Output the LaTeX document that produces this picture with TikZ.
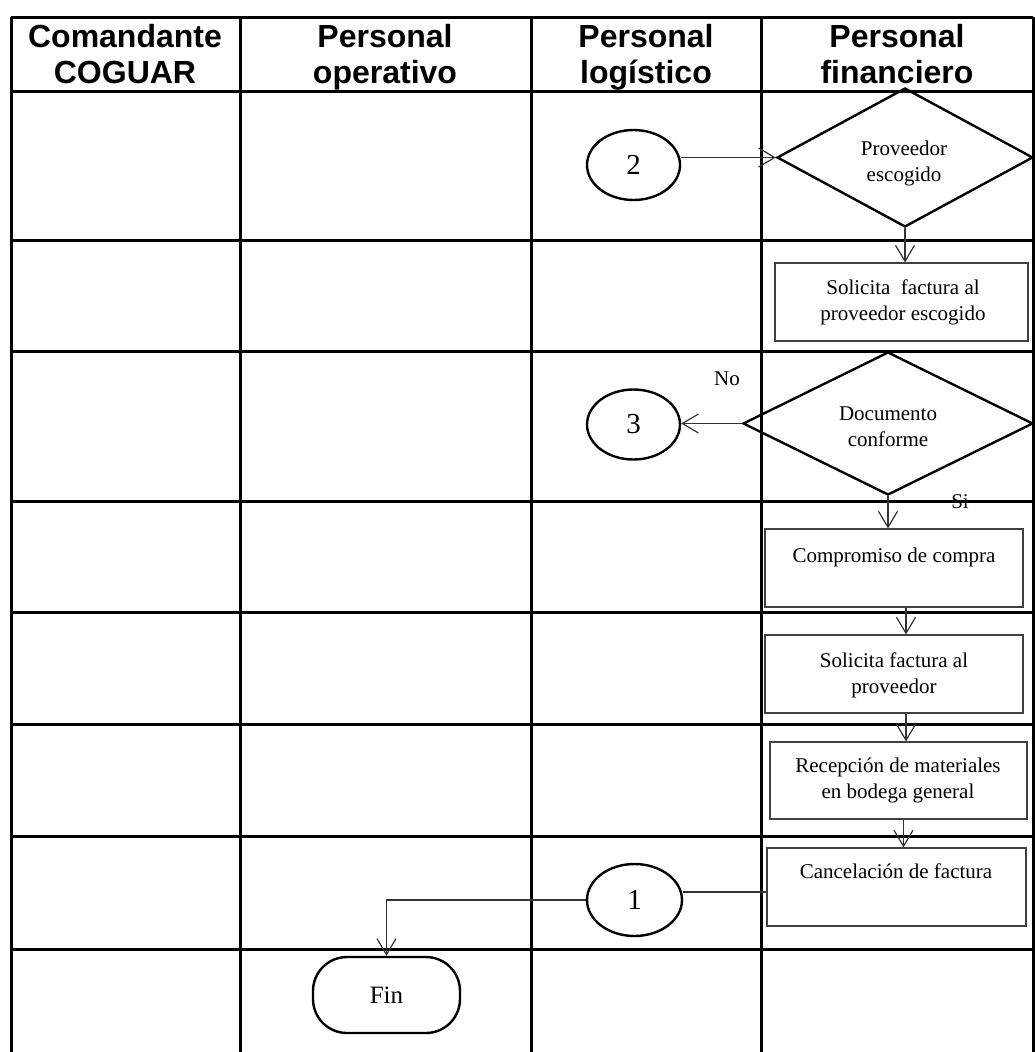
\documentclass[tikz,border=0pt]{standalone}
\usepackage{fontspec}
\setmainfont{Liberation Serif}
\newfontfamily\headfont{Liberation Sans}
\usetikzlibrary{shapes.geometric,arrows.meta}

\begin{document}
\begin{tikzpicture}[x=1pt,y=-1pt,
  grid/.style={line width=3pt, black},
  lanehead/.style={font=\headfont\bfseries\fontsize{32}{36}\selectfont, align=center, anchor=base, inner sep=0},
  txt/.style={font=\fontsize{21}{26}\selectfont, align=center, anchor=base, inner sep=0},
  decision/.style={diamond, draw, line width=2.4pt, inner sep=0},
  process/.style={rectangle, draw=black!75, line width=1.1pt, inner sep=0},
  onpage/.style={ellipse, draw, line width=2.4pt, minimum width=93pt, minimum height=70pt, inner sep=0, font=\fontsize{29}{32}\selectfont},
  terminal/.style={rectangle, rounded corners=34pt, draw, line width=2.4pt, minimum width=147pt, minimum height=76pt, inner sep=0, font=\fontsize{25}{28}\selectfont},
  flow/.style={draw=black!80, line width=1.2pt},
  arr/.style={flow, -{Straight Barb[length=16pt,width=19pt]}},
]
% page area
\fill[white] (0,0) rectangle (1035,1052);
\useasboundingbox (0,0) rectangle (1035,1052);

% swimlane grid
\foreach \gx in {11,240,531,761,1033} \draw[grid] (\gx,17) -- (\gx,1052);
\foreach \gy in {17,91,240,351,501,612,724,836,949} \draw[grid] (11,\gy) -- (1033,\gy);

% lane headers (anchored on the baseline of the second line)
\node[lanehead] (h1) at (125,83) {Comandante\\COGUAR};
\node[lanehead] (h2) at (385,83) {Personal\\operativo};
\node[lanehead] (h3) at (646,83) {Personal\\log\'{\i}stico};
\node[lanehead] (h4) at (897,83) {Personal\\financiero};

% flow shapes
\node[decision, minimum width=256pt, minimum height=139pt] (d1) at (905,157.5) {};
\node[process, minimum width=253pt, minimum height=78pt] (b1) at (901.5,302) {};
\node[decision, minimum width=290pt, minimum height=143pt] (d2) at (888,423.5) {};
\node[process, minimum width=258pt, minimum height=78pt] (b2) at (894,568) {};
\node[process, minimum width=258pt, minimum height=78pt] (b3) at (894,674) {};
\node[process, minimum width=257pt, minimum height=77pt] (b4) at (898.5,780.5) {};
\node[process, minimum width=259pt, minimum height=78pt] (b5) at (896.5,887) {};

\node[onpage] (c2) at (633.5,165) {2};
\node[onpage] (c3) at (633.5,424.5) {3};
\node[onpage, minimum width=95pt, minimum height=72pt] (c1) at (634.5,900) {1};
\node[terminal] (fin) at (386.5,995) {Fin};

% texts of the shapes (multi-line ones anchored on their last baseline)
\node[txt] (t1) at (904,181) {Proveedor\\escogido};
\node[txt] (t2) at (903,320) {Solicita\ \ factura al\\proveedor escogido};
\node[txt] (t3) at (888,446) {Documento\\conforme};
\node[txt] (t4) at (894,562) {Compromiso de compra};
\node[txt] (t5) at (894,693) {Solicita factura al\\proveedor};
\node[txt] (t6) at (898,798) {Recepci\'on de materiales\\en bodega general};
\node[txt] (t7) at (896,878) {Cancelaci\'on de factura};
\node[txt] (lno) at (727,385) {No};
\node[txt] (lsi) at (960,508) {Si};

% connectors
\draw[arr] (c2.east |- d1.west) -- (d1.west);
\draw[arr] (d1.south) -- (d1.south |- b1.north);
\draw[arr] (d2.west) -- (d2.west -| c3.east);
\draw[arr] (d2.south) -- (d2.south |- b2.north);
\draw[arr] ([xshift=12pt]b2.south) -- ([xshift=12pt]b3.north);
\draw[arr] ([xshift=12pt]b3.south) -- ([xshift=12pt]b3.south |- b4.north);
\draw[arr] ([xshift=5pt]b4.south) -- ([xshift=5pt]b4.south |- b5.north);
\draw[flow] ([yshift=-5pt]b5.west) -- ([yshift=-5pt]b5.west -| c1.east);
\draw[arr] (c1.west) -- (fin.north |- c1.west) -- (fin.north);
\end{tikzpicture}
\end{document}
